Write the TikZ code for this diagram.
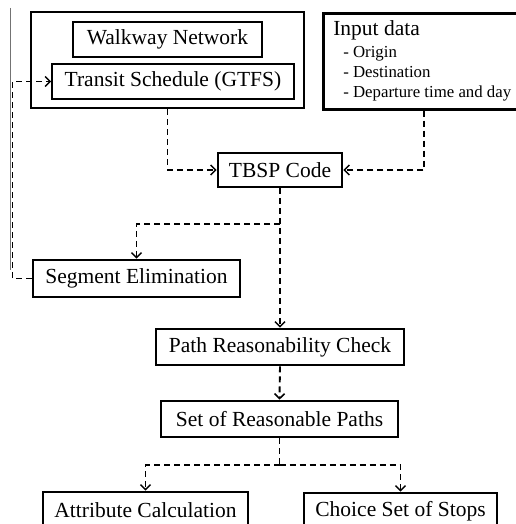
\documentclass[tikz,border=0pt]{standalone}
\usepackage{fontspec}
\setmainfont{Liberation Serif}
\usetikzlibrary{calc}
\usetikzlibrary{arrows.meta}

\newcommand{\itemfont}{\fontsize{16.8}{20.5}\selectfont}
\tikzset{
        stepbox/.style={draw, line width=2.6pt, inner sep=0pt, font=\fontsize{21.5}{24}\selectfont},
        inbox/.style={draw, line width=1.6pt, inner sep=0pt, font=\fontsize{21.5}{24}\selectfont},
        link/.style={line width=1.9pt, dash pattern=on 6pt off 4pt},
        flow/.style={link, -{Straight Barb[length=5pt,width=10pt,line width=1.5pt]}}
}

\begin{document}
\begin{tikzpicture}[x=1pt, y=-1pt]
        \useasboundingbox (0,0) rectangle (515,524);
        \draw[black!55, line width=1pt] (10.5,8) -- (10.5,270);
        \node[stepbox, minimum width=273pt, minimum height=96pt] (sources) at (167.5, 60) {};
        \node[inbox, minimum width=189pt, minimum height=35pt] (walk) at (167.5, 39.5) {Walkway Network};
        \node[inbox, minimum width=242pt, minimum height=35pt] (gtfs) at (173, 81.5) {Transit Schedule (GTFS)};
        \node[stepbox, anchor=north west, minimum height=96pt, inner xsep=10pt, align=left] (input) at (322, 12)
              {Input data\\[-2pt]
               \itemfont\hspace*{10pt}- Origin\\[-4pt]
               \itemfont\hspace*{10pt}- Destination\\[-4pt]
               \itemfont\hspace*{10pt}- Departure time and day\kern25pt\mbox{}};
        \node[stepbox, minimum width=124pt, minimum height=34pt] (tbsp) at (280, 170) {TBSP Code};
        \node[stepbox, minimum width=207pt, minimum height=37pt] (seg) at (136.5, 278.5) {Segment Elimination};
        \node[stepbox, minimum width=248pt, minimum height=36pt] (prc) at (280, 347) {Path Reasonability Check};
        \node[stepbox, minimum width=237pt, minimum height=36pt] (srp) at (279.5, 419) {Set of Reasonable Paths};
        \node[stepbox, minimum width=205pt, minimum height=36pt] (attr) at (145.5, 510) {Attribute Calculation};
        \node[stepbox, minimum width=193pt, minimum height=36pt] (choice) at (400.5, 511) {Choice Set of Stops};
        \coordinate (back) at (12.5, 0);
        \coordinate (split) at ($(tbsp.south)+(0,36)$);
        \coordinate (fork) at ($(srp.south)+(0,27)$);
        \coordinate (datadrop) at (424, 0);
        \draw[flow] (sources.south) |- (tbsp.west);
        \draw[flow] (datadrop |- input.south) |- (tbsp.east);
        \draw[flow] (tbsp.south) -- (prc.north);
        \draw[flow] (split) -| (seg.north);
        \draw[flow] (seg.west) -| (back |- gtfs.west) -- (gtfs.west);
        \draw[flow] (prc.south) -- (srp.north);
        \draw[link] (srp.south) -- (fork);
        \draw[flow] (fork) -| (attr.north);
        \draw[flow] (fork) -| (choice.north);
\end{tikzpicture}
\end{document}
